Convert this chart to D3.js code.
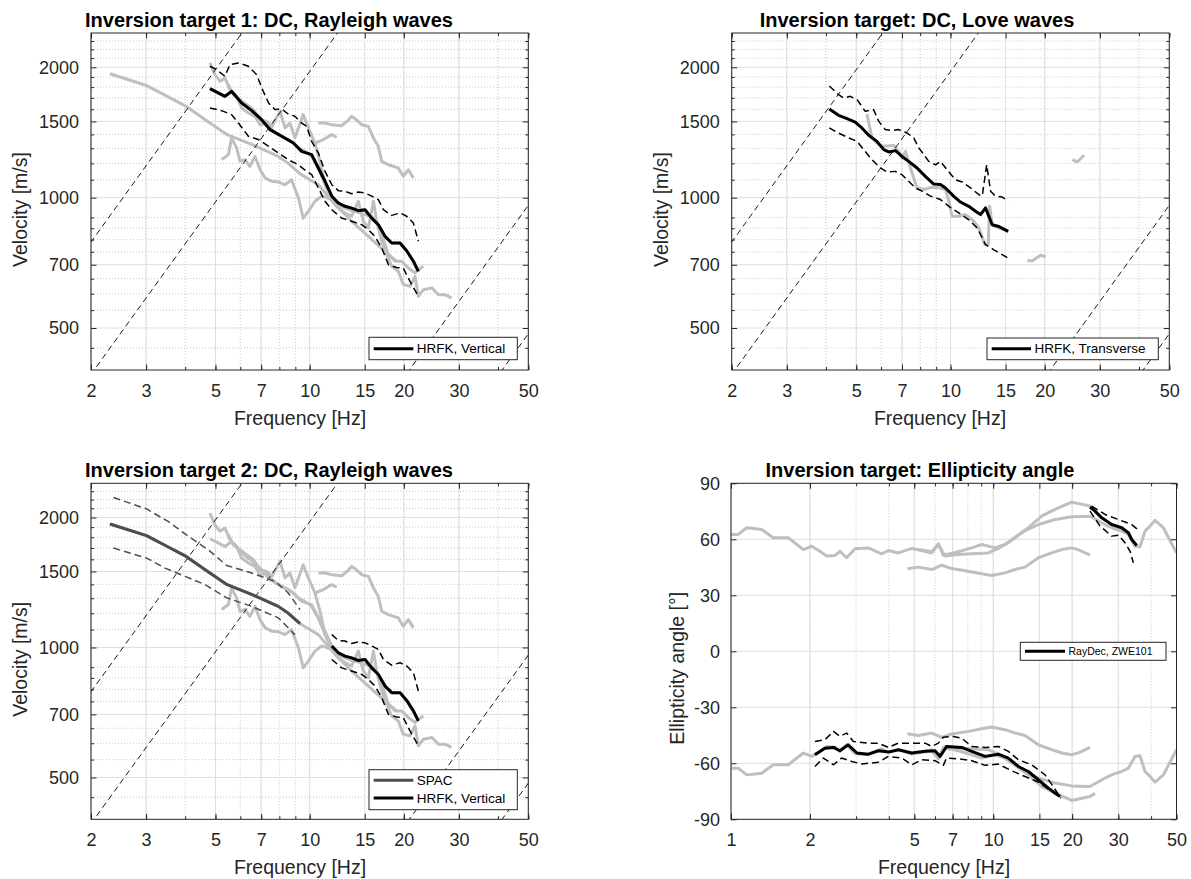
<!DOCTYPE html>
<html>
<head>
<meta charset="utf-8">
<script src="https://cdn.jsdelivr.net/npm/d3@7"></script>
<style>
  body { margin: 0; background: #fff; }
  svg { display: block; font-family: "Liberation Sans", Arial, Helvetica, sans-serif; }
</style>
</head>
<body>
<svg id="fig" width="1191" height="879"></svg>
<script>
// ---- tick values ----
const xTicksDC = [2, 3, 5, 7, 10, 15, 20, 30, 50];
const xMinorDC = [2, 3, 4, 5, 6, 7, 8, 9, 10, 20, 30, 40, 50];
const yTicksDC = [500, 700, 1000, 1500, 2000];
const yMinorDC = [450, 550, 600, 650, 750, 800, 850, 900, 1100, 1200, 1300, 1400, 1600, 1700, 1800, 1900, 2100, 2200, 2300];
const xTicksEll = [1, 2, 5, 7, 10, 15, 20, 30, 50];
const xMinorEll = [1, 2, 3, 4, 5, 6, 7, 8, 9, 10, 20, 30, 40, 50];
const yTicksEll = [-90, -60, -30, 0, 30, 60, 90];

// aliasing limits, velocity = c * frequency [m/s per Hz]
const aliasC = [395, 195.5, 19.2, 9.7];

// ---- Rayleigh: HRFK vertical (mean, upper, lower)  [Hz, m/s] ----
const hrfkV = [[4.80,1786],[5.36,1714],[5.63,1760],[6.06,1654],[6.53,1588],[6.94,1527],[7.47,1436],[8.14,1386],[8.87,1337],[9.43,1279],[10.15,1257],[10.66,1171],[11.20,1091],[11.77,1008],[12.35,972],[12.97,955],[13.62,946],[14.31,933],[15.03,938],[15.79,897],[16.58,866],[17.42,814],[18.29,786],[19.45,786],[20.42,754],[21.46,713],[22.26,676]];
const hrfkVUp = [[4.80,2011],[5.04,1975],[5.36,1906],[5.56,2029],[5.92,2047],[6.37,2011],[6.77,1923],[7.03,1792],[7.39,1654],[7.75,1597],[8.14,1602],[8.54,1560],[8.97,1541],[9.43,1487],[9.78,1461],[10.15,1349],[10.66,1269],[11.20,1150],[11.77,1071],[12.35,1038],[12.97,1035],[13.62,1021],[14.31,1030],[15.03,1025],[15.79,1008],[16.58,990],[17.21,938],[18.29,910],[19.45,922],[20.42,906],[21.46,874],[22.26,793]];
const hrfkVLo = [[4.80,1611],[5.23,1588],[5.63,1555],[5.92,1487],[6.37,1386],[6.86,1362],[7.39,1314],[7.94,1269],[8.54,1224],[9.20,1191],[9.78,1150],[10.15,1130],[10.66,1053],[11.20,981],[11.77,938],[12.66,897],[13.62,882],[14.67,866],[15.41,843],[16.18,814],[17.00,765],[17.86,700],[18.97,690],[19.91,688],[20.93,641],[22.26,592]];
const target2MinFreq = 11.7;

// ---- Rayleigh: SPAC (mean, upper, lower) ----
const spac = [[2.30,1932],[3.01,1815],[3.47,1720],[4.03,1625],[4.66,1510],[5.45,1398],[6.55,1326],[7.94,1245],[8.55,1200],[9.32,1135]];
const spacUp = [[2.36,2225],[3.01,2093],[3.53,1958],[4.09,1810],[4.74,1684],[5.43,1549],[6.53,1487],[7.75,1423],[8.54,1337],[9.32,1224]];
const spacLo = [[2.36,1699],[3.01,1611],[3.45,1527],[4.00,1461],[4.63,1398],[5.43,1303],[6.53,1245],[7.94,1171],[8.97,1071]];

// ---- Rayleigh: other (grey) curves ----
const grayR1 = [[2.30,1932],[3.01,1815],[3.47,1720],[4.03,1625],[4.66,1510],[5.45,1398],[6.55,1326],[7.94,1245],[8.55,1200],[9.32,1135],[10.66,1071],[12.05,964],[13.62,882],[15.41,814],[17.42,751],[18.97,713]];
const grayR2 = [[4.80,2047],[4.98,1923],[5.17,1858],[5.36,1890],[5.56,1776],[5.84,1714],[6.06,1611],[6.37,1569],[6.69,1541],[6.94,1474],[7.30,1487],[7.57,1436],[7.94,1398],[8.34,1374],[8.75,1349],[9.20,1303],[9.66,1279],[10.15,1245],[10.66,1171],[11.20,1071],[11.77,1000],[12.35,964],[12.97,946],[13.62,933],[14.31,925],[15.03,914],[15.79,906],[16.38,882],[17.00,821],[17.86,738],[18.75,713],[19.67,713],[20.68,688],[21.72,670],[22.26,682],[23.1,694]];
const grayR3 = [[5.50,1824],[5.70,1729],[5.99,1684],[6.29,1640],[6.61,1597],[6.94,1514],[7.30,1500],[7.57,1461],[8.04,1583],[8.34,1449],[8.65,1487],[8.97,1374],[9.54,1555],[9.90,1449],[10.40,1337],[10.79,1213],[11.20,1071],[11.77,990],[12.35,946],[12.97,922],[13.62,906],[14.31,981],[14.85,882],[15.41,851],[15.99,981],[16.38,882],[17.00,793],[17.63,738],[18.29,694],[19.20,676],[19.91,630],[20.93,624],[21.72,658],[22.26,592],[23.1,613],[24.6,619],[25.8,597],[27.1,597],[28.4,587]];
const grayR4 = [[10.66,1487],[11.20,1487],[11.77,1474],[12.66,1466],[13.30,1510],[13.62,1541],[14.0,1520],[14.67,1474],[15.41,1461],[15.99,1374],[16.58,1314],[17.00,1213],[17.86,1191],[19.20,1171],[19.91,1120],[20.68,1160],[21.46,1110]];
const grayR5 = [[10.40,1337],[11.06,1362],[11.77,1398],[12.20,1379]];
const grayR6 = [[5.23,1224],[5.50,1257],[5.63,1374],[5.84,1303],[5.99,1213],[6.21,1224],[6.44,1181],[6.69,1245],[6.94,1160],[7.21,1110],[7.57,1091],[7.94,1087],[8.34,1071],[8.75,1100],[9.20,1000],[9.54,897],[9.90,930],[10.40,981],[10.92,1008],[11.34,1000],[11.77,990]];

// ---- Love: HRFK transverse (mean, upper, lower) ----
const hrfkT = [[4.10,1602],[4.39,1549],[4.67,1522],[4.96,1495],[5.21,1449],[5.48,1393],[5.82,1349],[6.12,1291],[6.35,1275],[6.67,1284],[7.00,1245],[7.35,1213],[7.82,1171],[8.31,1120],[8.84,1075],[9.29,1072],[9.64,1053],[10.25,1007],[10.76,977],[11.44,955],[12.02,930],[12.47,914],[12.94,947],[13.59,866],[14.28,858],[15.29,836]];
const hrfkTUp = [[4.10,1810],[4.39,1729],[4.56,1699],[4.78,1714],[5.03,1684],[5.34,1583],[5.68,1597],[5.90,1500],[6.19,1436],[6.51,1428],[6.83,1436],[7.27,1410],[7.63,1374],[7.92,1303],[8.52,1213],[8.95,1191],[9.29,1213],[9.75,1160],[10.37,1100],[10.89,1087],[11.59,1053],[12.32,1016],[12.63,1010],[13.05,1191],[13.43,1035],[13.93,1008],[14.63,1003],[15.29,981]];
const hrfkTLo = [[4.10,1449],[4.39,1410],[4.73,1374],[5.03,1349],[5.28,1291],[5.61,1224],[5.97,1171],[6.27,1146],[6.67,1150],[7.00,1130],[7.35,1091],[7.73,1053],[8.11,1035],[8.63,1008],[9.29,990],[9.88,955],[10.63,922],[11.44,889],[12.17,851],[12.94,779],[13.76,758],[15.29,725]];
const grayL1 = [[5.41,1560],[5.61,1374],[5.90,1326],[6.12,1314],[6.59,1320],[6.83,1279],[7.00,1235],[7.18,1279],[7.45,1171],[7.82,1053],[8.21,1044],[8.63,1055],[9.17,1055],[9.64,1044],[9.88,981],[10.12,906],[10.63,906],[11.17,914],[11.87,882],[12.32,851],[12.88,779],[13.2,782],[13.33,955],[13.59,866],[14.28,851],[15.29,836]];
const grayL2 = [[17.60,715],[18.25,715],[19.41,736],[20.14,731]];
const grayL3 = [[24.5,1224],[25.4,1209],[26.7,1253]];

// ---- Ellipticity angle [Hz, deg]; grey curves are drawn as +angle and -angle ----
const ellA = [[1.0,62.6],[1.066,62.6],[1.148,66.2],[1.309,65.3],[1.45,60.8],[1.654,60.8],[1.888,54.5],[2.031,56.3],[2.185,53.6],[2.317,51.0],[2.493,51.3],[2.604,53.6],[2.761,50.1],[2.972,54.9],[3.341,55.4],[3.754,52.2],[3.982,54.0],[4.347,52.7],[4.887,55.1],[5.337,54.0],[5.826,52.7],[6.176,57.2],[6.549,51.0],[7.362,51.9],[8.277,52.2],[9.583,52.7],[10.46,55.1],[11.76,59.4],[13.22,64.7],[14.86,67.9],[17.21,70.6],[19.92,72.1],[23.40,72.4],[26.70,67.9],[28.72,65.8],[30.90,64.4],[32.77,62.6],[34.74,56.3],[36.30,56.0],[37.93,64.4],[39.63,67.1],[41.41,70.1],[44.56,66.2],[50.0,52.7]];
const ellB = [[5.18,54.5],[5.83,53.3],[6.18,57.6],[6.45,51.5],[7.36,53.3],[8.28,55.4],[9.04,57.2],[10.16,55.4],[11.09,57.2],[12.11,61.1],[13.61,66.2],[15.30,72.4],[17.21,76.0],[19.92,79.9],[23.40,77.8],[24.45,76.0]];
const ellD = [[4.71,44.2],[5.18,45.1],[5.83,43.8],[6.36,46.1],[6.94,44.3],[8.04,42.9],[9.04,41.5],[9.87,40.6],[11.09,42.0],[12.11,43.8],[13.22,45.1],[14.86,50.1],[16.71,52.7],[18.25,54.5],[19.92,55.4],[21.12,54.4],[23.40,51.5]];
const rayDecLo = [[2.09,-55.4],[2.28,-51.9],[2.46,-51.5],[2.60,-53.3],[2.80,-50.1],[3.02,-54.5],[3.34,-55.1],[3.65,-53.3],[3.98,-54.0],[4.35,-52.7],[4.89,-54.5],[5.50,-53.6],[6.00,-53.3],[6.27,-56.3],[6.64,-51.0],[7.58,-51.5],[8.28,-53.6],[9.31,-56.3],[10.46,-55.1],[11.42,-57.2],[12.47,-61.7],[13.61,-64.4],[14.86,-68.8],[16.23,-73.3],[17.98,-77.8]];
const rayDecLoUp = [[2.09,-48.3],[2.28,-47.4],[2.46,-42.9],[2.60,-45.6],[2.76,-43.8],[2.93,-48.3],[3.34,-49.2],[3.65,-49.2],[3.98,-51.5],[4.35,-49.2],[4.89,-49.2],[5.50,-49.2],[5.83,-51.0],[6.18,-49.2],[6.45,-46.1],[7.05,-45.6],[7.58,-46.5],[8.28,-51.0],[9.31,-51.5],[10.46,-51.0],[11.42,-53.6],[12.47,-58.1],[14.02,-60.8],[15.76,-66.2],[17.72,-76.5]];
const rayDecLoLo = [[2.09,-61.7],[2.25,-57.2],[2.46,-60.8],[2.64,-57.2],[2.89,-59.0],[3.15,-60.4],[3.65,-59.4],[3.98,-56.3],[4.48,-57.2],[4.89,-60.8],[5.34,-58.1],[6.00,-58.6],[6.45,-61.1],[6.64,-57.2],[7.58,-57.8],[8.28,-58.6],[9.31,-61.1],[10.46,-60.4],[11.76,-64.0],[13.22,-67.1],[14.86,-70.1],[16.71,-75.1],[18.14,-78.7]];
const rayDecHi = [[23.40,77.2],[24.45,75.1],[25.93,71.5],[28.30,67.9],[30.90,66.2],[32.77,63.5],[33.74,59.9],[35.26,56.7]];
const rayDecHiUp = [[23.75,77.8],[26.70,73.3],[30.01,70.6],[33.74,67.9],[35.56,65.3]];
const rayDecHiLo = [[23.40,75.1],[25.55,67.1],[28.30,61.7],[30.01,62.2],[31.82,58.1],[33.25,53.6],[34.23,47.4]];

// ---- styles ----
const GREY = '#bfbfbf', SPACCOL = '#4d4d4d', AXCOL = '#262626';
const DASH = '7,4', DASHW = 1.5;
const svg = d3.select('#fig');
let clipN = 0;

function makePanel(p) {
  const x = d3.scaleLog().domain(p.xDomain).range([p.x0, p.x0 + p.w]);
  const y = (p.yLog ? d3.scaleLog() : d3.scaleLinear()).domain(p.yDomain).range([p.y0 + p.h, p.y0]);
  const g = svg.append('g');
  const id = 'clip' + (clipN++);
  svg.append('clipPath').attr('id', id).append('rect')
    .attr('x', p.x0).attr('y', p.y0).attr('width', p.w).attr('height', p.h);

  // minor grid (dotted)
  const grid = g.append('g').attr('stroke-width', 1);
  grid.selectAll('.mx').data(p.xMinor).join('line')
    .attr('x1', d => x(d)).attr('x2', d => x(d)).attr('y1', p.y0).attr('y2', p.y0 + p.h)
    .attr('stroke', '#c9c9c9').attr('stroke-dasharray', '1,2');
  grid.selectAll('.my').data(p.yMinor).join('line')
    .attr('x1', p.x0).attr('x2', p.x0 + p.w).attr('y1', d => y(d)).attr('y2', d => y(d))
    .attr('stroke', '#c9c9c9').attr('stroke-dasharray', '1,2');
  // major grid
  grid.selectAll('.gx').data(p.xTicks).join('line')
    .attr('x1', d => x(d)).attr('x2', d => x(d)).attr('y1', p.y0).attr('y2', p.y0 + p.h)
    .attr('stroke', '#dedede');
  grid.selectAll('.gy').data(p.yTicks).join('line')
    .attr('x1', p.x0).attr('x2', p.x0 + p.w).attr('y1', d => y(d)).attr('y2', d => y(d))
    .attr('stroke', '#dedede');

  const plot = g.append('g').attr('clip-path', `url(#${id})`);

  // axes
  const fmt = d => String(d);
  const ax = g.append('g').attr('color', AXCOL);
  const style = s => s.attr('font-size', 18).attr('font-family', null)
    .call(a => a.select('.domain').remove());
  ax.append('g').attr('transform', `translate(0,${p.y0 + p.h})`)
    .call(d3.axisBottom(x).tickValues(p.xTicks).tickFormat(fmt).tickSizeInner(-5.5).tickSizeOuter(0).tickPadding(14))
    .call(style);
  ax.append('g').attr('transform', `translate(${p.x0},0)`)
    .call(d3.axisLeft(y).tickValues(p.yTicks).tickFormat(fmt).tickSizeInner(-5.5).tickSizeOuter(0).tickPadding(p.yPad))
    .call(style);
  ax.append('g').attr('transform', `translate(0,${p.y0})`)
    .call(d3.axisTop(x).tickValues(p.xTicks).tickFormat('').tickSizeInner(-5.5).tickSizeOuter(0)).call(style);
  ax.append('g').attr('transform', `translate(${p.x0 + p.w},0)`)
    .call(d3.axisRight(y).tickValues(p.yTicks).tickFormat('').tickSizeInner(-5.5).tickSizeOuter(0)).call(style);
  // minor ticks
  [[d3.axisBottom(x).tickValues(p.xMinor), `translate(0,${p.y0 + p.h})`],
   [d3.axisTop(x).tickValues(p.xMinor), `translate(0,${p.y0})`],
   [d3.axisLeft(y).tickValues(p.yMinor), `translate(${p.x0},0)`],
   [d3.axisRight(y).tickValues(p.yMinor), `translate(${p.x0 + p.w},0)`]].forEach(([a, t]) => {
    ax.append('g').attr('transform', t).call(a.tickFormat('').tickSizeInner(-3).tickSizeOuter(0)).call(style);
  });
  ax.selectAll('text').attr('fill', AXCOL);
  // box
  g.append('rect').attr('x', p.x0).attr('y', p.y0).attr('width', p.w).attr('height', p.h)
    .attr('fill', 'none').attr('stroke', AXCOL).attr('stroke-width', 1);

  // labels
  g.append('text').attr('x', p.titleX).attr('y', p.y0 - 6).attr('text-anchor', 'middle')
    .attr('font-size', 20).attr('font-weight', 'bold').attr('fill', '#000').text(p.title);
  g.append('text').attr('x', p.xLabelX).attr('y', p.y0 + p.h + 55).attr('text-anchor', 'middle')
    .attr('font-size', 19.5).attr('fill', AXCOL).text('Frequency [Hz]');
  g.append('text').attr('transform', `translate(${p.yLabelX},${p.y0 + p.h / 2 + p.yLabelDy}) rotate(-90)`)
    .attr('text-anchor', 'middle').attr('font-size', 19.5).attr('fill', AXCOL).text(p.yLabel);

  return { x, y, plot, g };
}

function curve(P, data, color, width, dash) {
  P.plot.append('path').datum(data)
    .attr('d', d3.line().x(d => P.x(d[0])).y(d => P.y(d[1])))
    .attr('fill', 'none').attr('stroke', color).attr('stroke-width', width)
    .attr('stroke-linejoin', 'round').attr('stroke-dasharray', dash || null);
}

function aliasLines(P) {
  aliasC.forEach(c => curve(P, [[1, c], [80, c * 80]], '#000', 0.9, '6,4'));
}

function legend(P, box, items, fontSize) {
  const lg = P.g.append('g');
  lg.append('rect').attr('x', box[0]).attr('y', box[1]).attr('width', box[2]).attr('height', box[3])
    .attr('fill', '#fff').attr('stroke', AXCOL).attr('stroke-width', 1);
  items.forEach(it => {
    lg.append('line').attr('x1', it.x1).attr('x2', it.x2).attr('y1', it.y).attr('y2', it.y)
      .attr('stroke', it.color).attr('stroke-width', 3);
    lg.append('text').attr('x', it.x2 + 3.5).attr('y', it.y).attr('dy', '0.35em')
      .attr('font-size', fontSize).attr('fill', '#000').text(it.label);
  });
}

const dcBase = { xDomain: [2, 50], yDomain: [400, 2400], yLog: true, xTicks: xTicksDC, xMinor: xMinorDC,
                 yTicks: yTicksDC, yMinor: yMinorDC, yLabel: 'Velocity [m/s]', yPad: 12, yLabelDy: 8 };
const grayRayleigh = [grayR1, grayR2, grayR3, grayR4, grayR5, grayR6, hrfkV];

// Panel 1
const P1 = makePanel({ ...dcBase, x0: 91, y0: 33, w: 437.3, h: 337, title: 'Inversion target 1: DC, Rayleigh waves',
                       titleX: 269, xLabelX: 300, yLabelX: 27 });
grayRayleigh.forEach(c => curve(P1, c, GREY, 3));
aliasLines(P1);
curve(P1, hrfkVUp, '#000', DASHW, DASH);
curve(P1, hrfkVLo, '#000', DASHW, DASH);
curve(P1, hrfkV, '#000', 3);
legend(P1, [369, 337.3, 148.3, 22.4], [{ x1: 373.7, x2: 413.3, y: 348.7, color: '#000', label: 'HRFK, Vertical' }], 13.5);

// Panel 2
const P2 = makePanel({ ...dcBase, x0: 731.7, y0: 33, w: 437.6, h: 337, title: 'Inversion target: DC, Love waves',
                       titleX: 917, xLabelX: 940, yLabelX: 667.5 });
[grayL1, grayL2, grayL3].forEach(c => curve(P2, c, GREY, 3));
aliasLines(P2);
curve(P2, hrfkTUp, '#000', DASHW, DASH);
curve(P2, hrfkTLo, '#000', DASHW, DASH);
curve(P2, hrfkT, '#000', 3);
legend(P2, [987, 338, 171.3, 21.7], [{ x1: 991.7, x2: 1031, y: 348.7, color: '#000', label: 'HRFK, Transverse' }], 13.5);

// Panel 3
const P3 = makePanel({ ...dcBase, x0: 91, y0: 483.3, w: 437.3, h: 336, title: 'Inversion target 2: DC, Rayleigh waves',
                       titleX: 269, xLabelX: 300, yLabelX: 27 });
grayRayleigh.forEach(c => curve(P3, c, GREY, 3));
aliasLines(P3);
curve(P3, spacUp, SPACCOL, DASHW, DASH);
curve(P3, spacLo, SPACCOL, DASHW, DASH);
curve(P3, spac, SPACCOL, 3);
const t2 = arr => arr.filter(d => d[0] >= target2MinFreq);
curve(P3, t2(hrfkVUp), '#000', DASHW, DASH);
curve(P3, t2(hrfkVLo), '#000', DASHW, DASH);
curve(P3, t2(hrfkV), '#000', 3);
legend(P3, [369, 769.7, 148.3, 40], [
  { x1: 373.7, x2: 413.3, y: 780.3, color: SPACCOL, label: 'SPAC' },
  { x1: 373.7, x2: 413.3, y: 798, color: '#000', label: 'HRFK, Vertical' }], 13.5);

// Panel 4
const P4 = makePanel({ xDomain: [1, 50], yDomain: [-90, 90], yLog: false, xTicks: xTicksEll, xMinor: xMinorEll,
                       yTicks: yTicksEll, yMinor: [], yLabel: 'Ellipticity angle [°]', yPad: 11, yLabelDy: 17,
                       x0: 731, y0: 483.3, w: 445.5, h: 336, title: 'Inversion target: Ellipticity angle',
                       titleX: 920, xLabelX: 944, yLabelX: 684 });
[ellA, ellB, ellD].forEach(c => {
  curve(P4, c, GREY, 3);
  curve(P4, c.map(d => [d[0], -d[1]]), GREY, 3);
});
curve(P4, rayDecLoUp, '#000', DASHW, DASH);
curve(P4, rayDecLoLo, '#000', DASHW, DASH);
curve(P4, rayDecLo, '#000', 3);
curve(P4, rayDecHiUp, '#000', DASHW, DASH);
curve(P4, rayDecHiLo, '#000', DASHW, DASH);
curve(P4, rayDecHi, '#000', 3);
legend(P4, [1020.3, 642.3, 145.7, 18], [{ x1: 1025, x2: 1065, y: 651.3, color: '#000', label: 'RayDec, ZWE101' }], 10.5);
</script>
</body>
</html>
